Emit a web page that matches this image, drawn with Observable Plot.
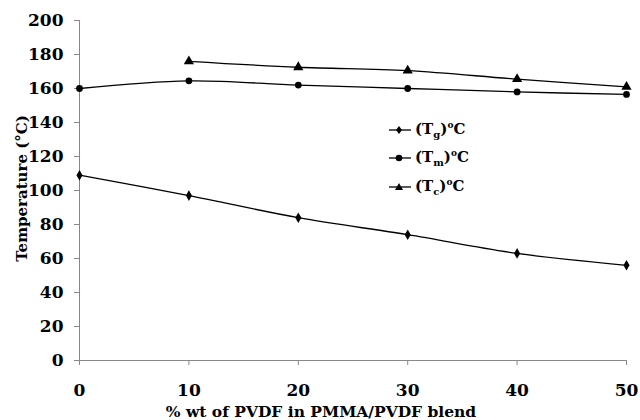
<!DOCTYPE html>
<html>
<head>
<meta charset="utf-8">
<script src="https://cdn.jsdelivr.net/npm/d3@7"></script>
<script src="https://cdn.jsdelivr.net/npm/@observablehq/plot@0.6"></script>
<style>
  body { margin: 0; background: #fff; }
  #wrap { position: relative; width: 640px; height: 420px; font-family: "DejaVu Serif", serif; }
  #wrap svg { font-family: "DejaVu Serif", serif !important; font-weight: bold; }
  #wrap svg text { font-weight: bold; }
  .leg { position: absolute; left: 388px; font-weight: bold; font-size: 15px; color: #000; display: flex; align-items: center; font-family: "DejaVu Serif", serif; }
  .leg svg { margin-right: 3px; }
  .leg sub { font-size: 10px; vertical-align: -4px; }
  .leg sup { font-size: 9px; vertical-align: 6px; }
</style>
</head>
<body>
<div id="wrap"></div>
<script>
const xs = [0, 10, 20, 30, 40, 50];
const tg = [109, 97, 84, 74, 63, 56];
const tm = [160, 164.5, 162, 160, 158, 156.5];
const tcX = [10, 20, 30, 40, 50];
const tc = [176, 172.5, 170.5, 165.5, 161];
const xTicks = [0, 10, 20, 30, 40, 50];
const yTicks = [0, 20, 40, 60, 80, 100, 120, 140, 160, 180, 200];

const dTg = xs.map((x, i) => ({x, y: tg[i]}));
const dTm = xs.map((x, i) => ({x, y: tm[i]}));
const dTc = tcX.map((x, i) => ({x, y: tc[i]}));

const plot = Plot.plot({
  width: 640,
  height: 420,
  marginLeft: 79,
  marginRight: 14,
  marginTop: 20,
  marginBottom: 60,
  style: "font-family: 'DejaVu Serif', serif; font-weight: bold; font-size: 17px; color: #000; background: #fff;",
  x: {domain: [0, 50]},
  y: {domain: [0, 200]},
  marks: [
    Plot.ruleX([0], {stroke: "#888"}),
    Plot.ruleY([0], {stroke: "#888"}),
    Plot.axisY({ticks: yTicks, tickSize: 5, tickPadding: 11, stroke: "#888", fill: "#000", label: null, fontSize: 17, fontWeight: "bold"}),
    Plot.axisX({ticks: xTicks, tickSize: 5, tickPadding: 18, stroke: "#888", fill: "#000", label: null, fontSize: 17, fontWeight: "bold"}),
    Plot.text(["% wt of PVDF in PMMA/PVDF blend"], {frameAnchor: "bottom", dx: -32, dy: 56, fontSize: 15.5, fontWeight: "bold", fill: "#000"}),
    Plot.text(["Temperature (°C)"], {frameAnchor: "left", textAnchor: "middle", dx: -57, dy: -2, rotate: -90, fontSize: 15, fontWeight: "bold", fill: "#000"}),
    Plot.line(dTg, {x: "x", y: "y", stroke: "#000", strokeWidth: 1.3, curve: "catmull-rom"}),
    Plot.line(dTm, {x: "x", y: "y", stroke: "#000", strokeWidth: 1.3, curve: "catmull-rom"}),
    Plot.line(dTc, {x: "x", y: "y", stroke: "#000", strokeWidth: 1.3, curve: "catmull-rom"}),
    Plot.dot(dTg, {x: "x", y: "y", symbol: "diamond", fill: "#000", r: 3.2}),
    Plot.dot(dTm, {x: "x", y: "y", symbol: "circle", fill: "#000", r: 3.4}),
    Plot.dot(dTc, {x: "x", y: "y", symbol: "triangle", fill: "#000", r: 3.8})
  ]
});
const wrap = document.getElementById("wrap");
wrap.appendChild(plot);

const legendItems = [
  {sub: "g", shape: "diamond", top: 120},
  {sub: "m", shape: "circle", top: 148},
  {sub: "c", shape: "triangle", top: 177}
];
const shapes = {
  diamond: '<path d="M11,6 L14,10 L11,14 L8,10 Z" fill="#000"/>',
  circle: '<circle cx="11" cy="10" r="3.3" fill="#000"/>',
  triangle: '<path d="M11,6 L15,13 L7,13 Z" fill="#000"/>'
};
for (const it of legendItems) {
  const div = document.createElement("div");
  div.className = "leg";
  div.style.top = it.top + "px";
  div.innerHTML = `<svg width="24" height="20"><line x1="1" y1="10" x2="23" y2="10" stroke="#000" stroke-width="1.3"/>${shapes[it.shape]}</svg><span>(T<sub>${it.sub}</sub>)<sup>o</sup>C</span>`;
  wrap.appendChild(div);
}
</script>
</body>
</html>
